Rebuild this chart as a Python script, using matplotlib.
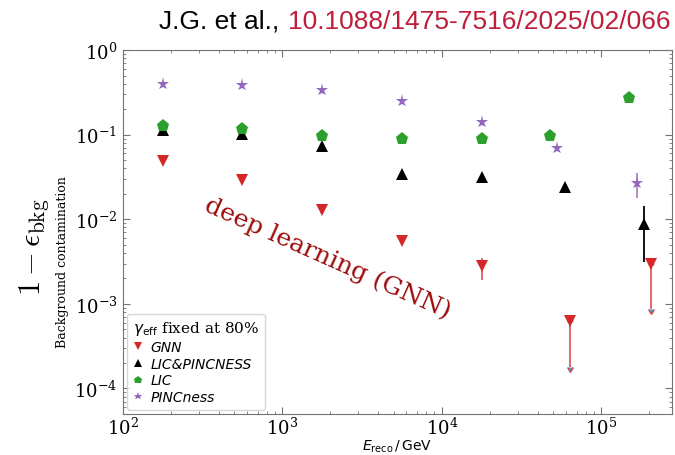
import matplotlib
matplotlib.use("Agg")
import matplotlib.pyplot as plt
from matplotlib.font_manager import FontProperties

plt.rcParams["font.family"] = "DejaVu Serif"
plt.rcParams["mathtext.fontset"] = "dejavuserif"

# background contamination at fixed 80% gamma efficiency
gnn_x = [178, 562, 1778, 5623, 17783, 64000, 204000]
gnn_y = [0.049, 0.0294, 0.013, 0.0056, 0.00277, 0.00062, 0.00297]
gnn_lo = [0, 0, 0, 0, 0.00087, 0, 0]
gnn_hi = [0, 0, 0, 0, 0.0007, 0, 0]
gnn_lim_x = [64000, 204000]          # upper limits (arrows)
gnn_lim_y = [0.00062, 0.00297]
gnn_lim_end = [0.000181, 0.000875]

lp_x = [178, 562, 1778, 5623, 17783, 59000, 185000]
lp_y = [0.115, 0.102, 0.073, 0.0344, 0.032, 0.0239, 0.0087]
lp_lo = [0, 0, 0, 0, 0, 0, 0.0056]
lp_hi = [0, 0, 0, 0, 0, 0, 0.0058]

lic_x = [178, 562, 1778, 5623, 17783, 47500, 150000]
lic_y = [0.128, 0.117, 0.096, 0.088, 0.088, 0.096, 0.269]

pin_x = [178, 562, 1778, 5623, 17783, 53000, 168000]
pin_y = [0.40, 0.386, 0.34, 0.25, 0.14, 0.069, 0.0267]
pin_lo = [0, 0, 0, 0, 0, 0, 0.009]
pin_hi = [0, 0, 0, 0, 0, 0, 0.0083]

red = "#d62728"
green = "#2ca02c"
purple = "#9467bd"

fig = plt.figure(figsize=(6.75, 4.56), dpi=100)
ax = fig.add_axes([0.182, 0.090, 0.814, 0.798])

# error bars first, markers on top
ax.errorbar(gnn_x, gnn_y, yerr=[gnn_lo, gnn_hi], fmt="none", ecolor=red,
            elinewidth=1.3, alpha=0.75)
lim_err = [gy - ge for gy, ge in zip(gnn_lim_y, gnn_lim_end)]
ax.errorbar(gnn_lim_x, gnn_lim_y, yerr=[lim_err, [0, 0]], uplims=True,
            fmt="none", ecolor=red, elinewidth=1.3, capsize=2.2, alpha=0.75)
ax.errorbar(lp_x, lp_y, yerr=[lp_lo, lp_hi], fmt="none", ecolor="black",
            elinewidth=1.3)
ax.errorbar(pin_x, pin_y, yerr=[pin_lo, pin_hi], fmt="none", ecolor=purple,
            elinewidth=1.3, alpha=0.8)

ax.plot(gnn_x, gnn_y, "v", color=red, ms=9, mew=0, label="GNN")
ax.plot(lp_x, lp_y, "^", color="black", ms=9, mew=0, label="LIC&PINCNESS")
ax.plot(lic_x, lic_y, "p", color=green, ms=9.5, mew=0, label="LIC")
ax.plot(pin_x, pin_y, "*", color=purple, ms=9.5, mew=0, label="PINCness")

ax.set_xscale("log")
ax.set_yscale("log")
ax.set_xlim(100, 2.79e5)
ax.set_ylim(5.0e-5, 1.0)

ax.tick_params(which="both", direction="in", top=True, right=True,
               color="0.45")
ax.tick_params(which="major", length=5, labelsize=13, pad=4)
ax.tick_params(axis="x", which="major", pad=2)
ax.tick_params(which="minor", length=2.5)
for s in ax.spines.values():
    s.set_color("0.45")

ax.set_xlabel(r"$E_\mathrm{reco}\,/\,\mathrm{GeV}$", family="DejaVu Sans",
              fontsize=10, math_fontfamily="dejavusans", labelpad=0)

fig.text(0.050, 1 - 247 / 456, r"$1-\epsilon_\mathrm{bkg}$", rotation=90,
         ha="center", va="center", fontsize=22, math_fontfamily="cm")
fig.text(0.093, 1 - 262 / 456, "Background contamination", rotation=90,
         ha="center", va="center", fontsize=9)

ax.text(0.372, 0.431, "deep learning (GNN)", transform=ax.transAxes,
        rotation=-24, ha="center", va="center", rotation_mode="anchor",
        fontsize=18, color="#9b0a0a")

leg = ax.legend(loc="lower left", prop=dict(family="DejaVu Sans",
                style="italic", size=10),
                title=r"$\gamma_\mathrm{eff}$ fixed at 80%",
                title_fontproperties=FontProperties(family="DejaVu Serif",
                                                    size=11,
                                                    math_fontfamily="dejavusans"),
                alignment="left", markerscale=0.65, handlelength=0.8,
                handletextpad=0.5, labelspacing=0.2, borderaxespad=0.3,
                framealpha=0.8, edgecolor="#cccccc")

# reference line at the top
doi = fig.text(0.993, 0.952, "10.1088/1475-7516/2025/02/066", ha="right",
               va="center", fontsize=19, family="Liberation Sans",
               color="#be1e3c")
ax.annotate("J.G. et al.,", xy=(0, 0), xycoords=doi, xytext=(-6, 0),
            textcoords="offset points", ha="right", va="bottom",
            fontsize=19, family="Liberation Sans", color="black",
            annotation_clip=False)

fig.savefig("out.png", dpi=100)
